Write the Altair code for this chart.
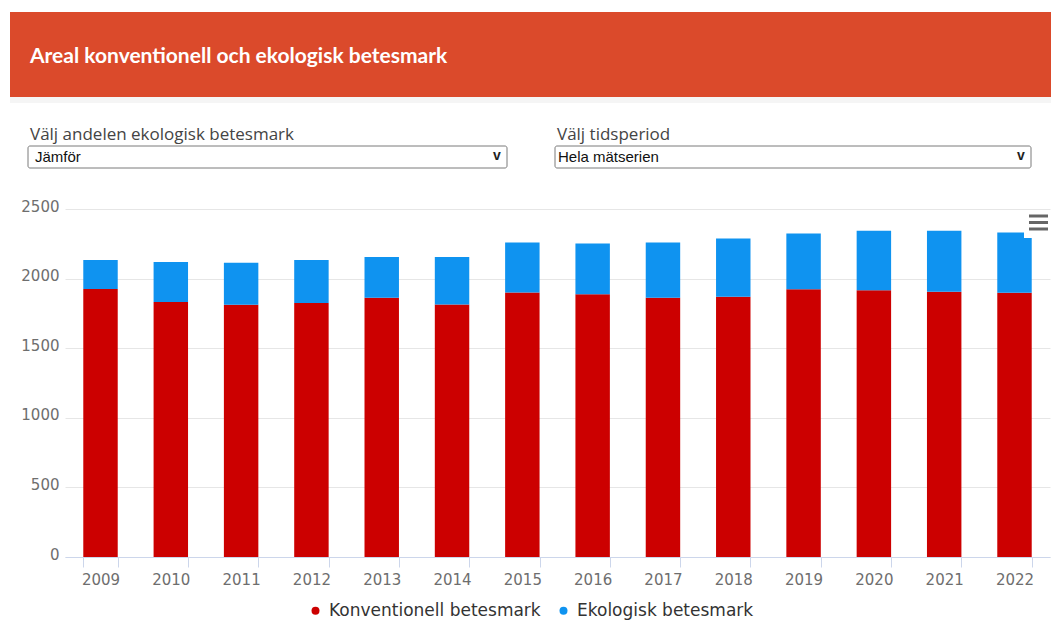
import altair as alt
import pandas as pd

# ---- data ----
years = ["2009", "2010", "2011", "2012", "2013", "2014", "2015",
         "2016", "2017", "2018", "2019", "2020", "2021", "2022"]
konventionell = [1925, 1831, 1812, 1824, 1862, 1814, 1900,
                 1888, 1862, 1869, 1924, 1917, 1905, 1898]
ekologisk = [208, 289, 301, 309, 294, 342, 360,
             364, 398, 419, 400, 426, 438, 433]
series = ["Konventionell betesmark", "Ekologisk betesmark"]
colors = ["#cc0000", "#0f93f0"]
y_ticks = [0, 500, 1000, 1500, 2000, 2500]
title_text = "Areal konventionell och ekologisk betesmark"
select_labels = ["Välj andelen ekologisk betesmark", "Välj tidsperiod"]
select_values = ["Jämför", "Hela mätserien"]

rows = []
for i, yr in enumerate(years):
    rows.append({"year": yr, "serie": series[0], "value": konventionell[i], "ord": 0})
    rows.append({"year": yr, "serie": series[1], "value": ekologisk[i], "ord": 1})
df = pd.DataFrame(rows)

W, H = 985, 348
RP = 1

bars = alt.Chart(df).mark_bar(stroke=None).encode(
    x=alt.X("year:O", title=None,
            scale=alt.Scale(paddingInner=0.51, paddingOuter=0.26),
            axis=alt.Axis(labelAngle=0, labelFont="DejaVu Sans", labelFontSize=15,
                          labelColor="#6e6e6e", tickBand="extent", ticks=True,
                          tickSize=10, tickColor="#ccd6eb", domainColor="#ccd6eb",
                          labelPadding=5, grid=False)),
    y=alt.Y("value:Q", title=None, stack="zero",
            scale=alt.Scale(domain=[0, 2500], nice=False),
            axis=alt.Axis(values=y_ticks, format="d", domain=False, ticks=False, grid=True,
                          gridColor="#e6e6e6", labelFont="DejaVu Sans",
                          labelFontSize=15, labelColor="#6e6e6e", labelPadding=6,
                          labelBaseline="middle", labelOffset=-3)),
    color=alt.Color("serie:N", scale=alt.Scale(domain=series, range=colors),
                    legend=alt.Legend(orient="none", legendX=242, legendY=393,
                                      direction="horizontal", title=None,
                                      symbolType="circle", symbolSize=64,
                                      symbolStrokeWidth=0, labelFontSize=17,
                                      labelFont="DejaVu Sans", labelColor="#333333",
                                      labelLimit=400, columnPadding=14, labelOffset=5)),
    order=alt.Order("ord:Q"),
)

one = pd.DataFrame({"t": [title_text]})

header = alt.Chart(one).mark_rect(fill="#db4a2b").encode(
    x=alt.value(-55), x2=alt.value(W + RP), y=alt.value(-197), y2=alt.value(-112))
shadow = alt.Chart(one).mark_rect(fill="#eeeeee", opacity=0.6).encode(
    x=alt.value(-55), x2=alt.value(W + RP), y=alt.value(-112), y2=alt.value(-106))
title = alt.Chart(one).mark_text(align="left", baseline="alphabetic", font="Lato",
                                 fontSize=21, fontWeight="bold", color="#ffffff").encode(
    x=alt.value(-35), y=alt.value(-146), text="t:N")

layers = [header, shadow, title]
box_x = [(-37, 442), (490, 966)]
lab_x = [-35, 492]
val_x = [-30, 493]
for k in range(2):
    d = pd.DataFrame({"lab": [select_labels[k]], "val": [select_values[k]]})
    layers.append(alt.Chart(d).mark_text(align="left", baseline="alphabetic",
                                         font="Open Sans", fontSize=17,
                                         color="#444444").encode(
        x=alt.value(lab_x[k]), y=alt.value(-69), text="lab:N"))
    layers.append(alt.Chart(d).mark_rect(fill="#ffffff", stroke="#7a7a7a", strokeWidth=1,
                                         cornerRadius=2).encode(
        x=alt.value(box_x[k][0]), x2=alt.value(box_x[k][1]),
        y=alt.value(-63), y2=alt.value(-41)))
    layers.append(alt.Chart(d).mark_text(align="left", baseline="alphabetic",
                                         font="Liberation Sans", fontSize=15,
                                         color="#111111").encode(
        x=alt.value(val_x[k]), y=alt.value(-47), text="val:N"))
    layers.append(alt.Chart(d).mark_text(align="center", baseline="middle",
                                         font="Liberation Sans", fontSize=14,
                                         fontWeight="bold", color="#222222").encode(
        x=alt.value(box_x[k][1] - 10), y=alt.value(-53), text=alt.value("v")))

layers.append(bars)

# menu button (hamburger)
layers.append(alt.Chart(one).mark_rect(fill="#ffffff").encode(
    x=alt.value(959), x2=alt.value(W + RP), y=alt.value(2), y2=alt.value(29)))
for yy in [7, 13.5, 20]:
    layers.append(alt.Chart(one).mark_rule(color="#666666", strokeWidth=3).encode(
        x=alt.value(964), x2=alt.value(983), y=alt.value(yy)))

chart = alt.layer(*layers).properties(
    width=W, height=H,
    autosize=alt.AutoSizeParams(type="none"),
    padding={"left": 57, "top": 201, "right": RP, "bottom": 66},
    background="#ffffff",
).configure_view(stroke=None)

chart.save("out.html", embed_options={"renderer": "svg", "actions": False})
